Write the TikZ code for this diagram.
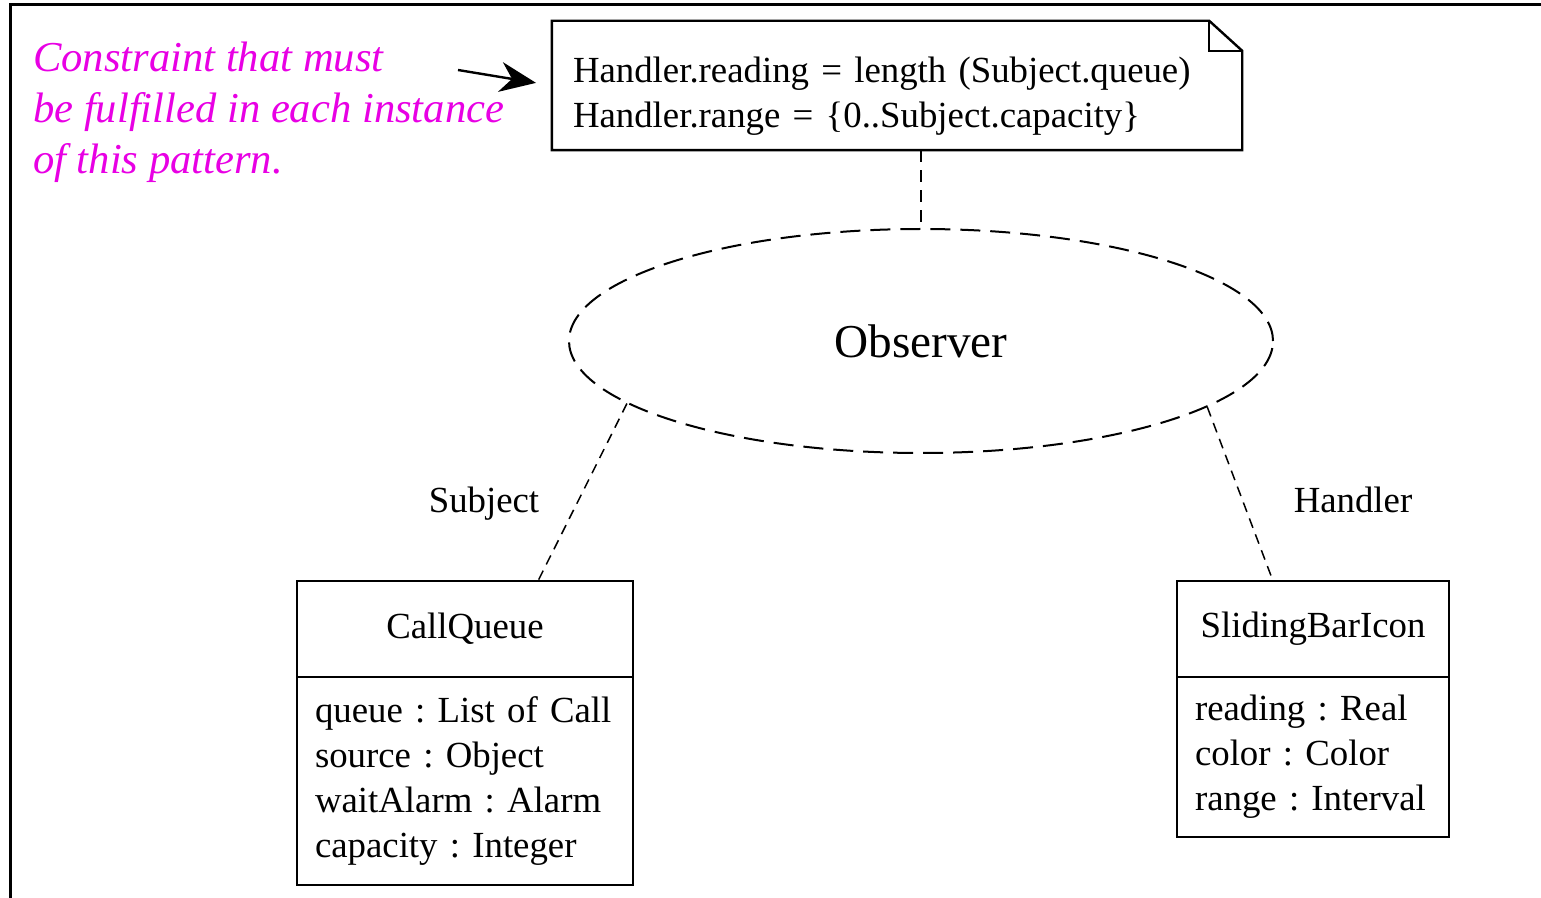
\documentclass[tikz,border=0pt]{standalone}
\usepackage{fontspec}
\setmainfont{Liberation Serif}
\usetikzlibrary{positioning,arrows.meta,shapes.geometric}
\definecolor{hintpink}{RGB}{232,0,228}
\frenchspacing

\begin{document}
\begin{tikzpicture}[x=0.5pt,y=-0.5pt,
  font=\fontsize{18.4}{22.5}\selectfont, line width=1.2pt,
  classname/.style={draw,minimum height=48pt,inner sep=0pt,outer sep=0pt},
  classattr/.style={draw,align=left,inner xsep=9pt,inner ysep=0pt,outer sep=0pt},
  link/.style={line width=0.75pt,dash pattern=on 5pt off 3.5pt}]
  \useasboundingbox (0,0) rectangle (1541,898);
  \draw[line width=1.5pt] (10,910) -- (10,5) -- (1560,5);

  % constraint note and its comment
  \node[minimum width=344pt,minimum height=63.5pt,inner xsep=10pt,
    text width=324pt,align=left] (note) at (897,85.5)
    {\rule{0pt}{23pt}Handler.reading = length (Subject.queue)\\Handler.range = \{0..Subject.capacity\}};
  \draw (note.north west) -- ([xshift=-16.5pt]note.north east)
    -- ([yshift=-15pt]note.north east) -- (note.south east)
    -- (note.south west) -- cycle;
  \draw ([xshift=-16.5pt]note.north east) |- ([yshift=-15pt]note.north east);
  \node[anchor=north west,align=left,inner sep=0pt,text=hintpink,
    font=\fontsize{21.3}{25.5}\selectfont\itshape] (hint) at (32,41)
    {Constraint that must\\be fulfilled in each instance\\of this pattern.};
  \coordinate (hintend) at (458,70);
  \draw[-{Stealth[length=18pt,width=15pt]},shorten >=8pt] (hintend) -- (note.west);

  % collaboration
  \node[ellipse,draw,line width=1pt,dash pattern=on 10pt off 5pt,
    minimum width=352pt,minimum height=112pt,inner sep=0pt,
    font=\fontsize{23.6}{28}\selectfont] (obs) at (921,341) {Observer};
  \draw[dash pattern=on 6pt off 4pt] (obs.north |- note.south) -- (obs.north);

  % classes
  \node[classname,minimum width=168pt] (cq) at (465,629) {CallQueue};
  \node[classattr,text width=150pt,minimum height=104pt,below=0pt of cq] (cqattr)
    {queue : List of Call\\source : Object\\waitAlarm : Alarm\\capacity : Integer};
  \node[classname,minimum width=136pt] (sbi) at (1313,629) {SlidingBarIcon};
  \node[classattr,text width=118pt,minimum height=80pt,below=0pt of sbi] (sbiattr)
    {reading : Real\\color : Color\\range : Interval};

  \draw[link] (obs.192.5) -- ([xshift=36.5pt]cq.north);
  \draw[link] (obs.347.5) -- ([xshift=-20pt]sbi.north);
  \node[anchor=base] (subjlbl) at (484,512) {Subject};
  \node[anchor=base] (hdlrlbl) at (1353,512) {Handler};
\end{tikzpicture}
\end{document}
